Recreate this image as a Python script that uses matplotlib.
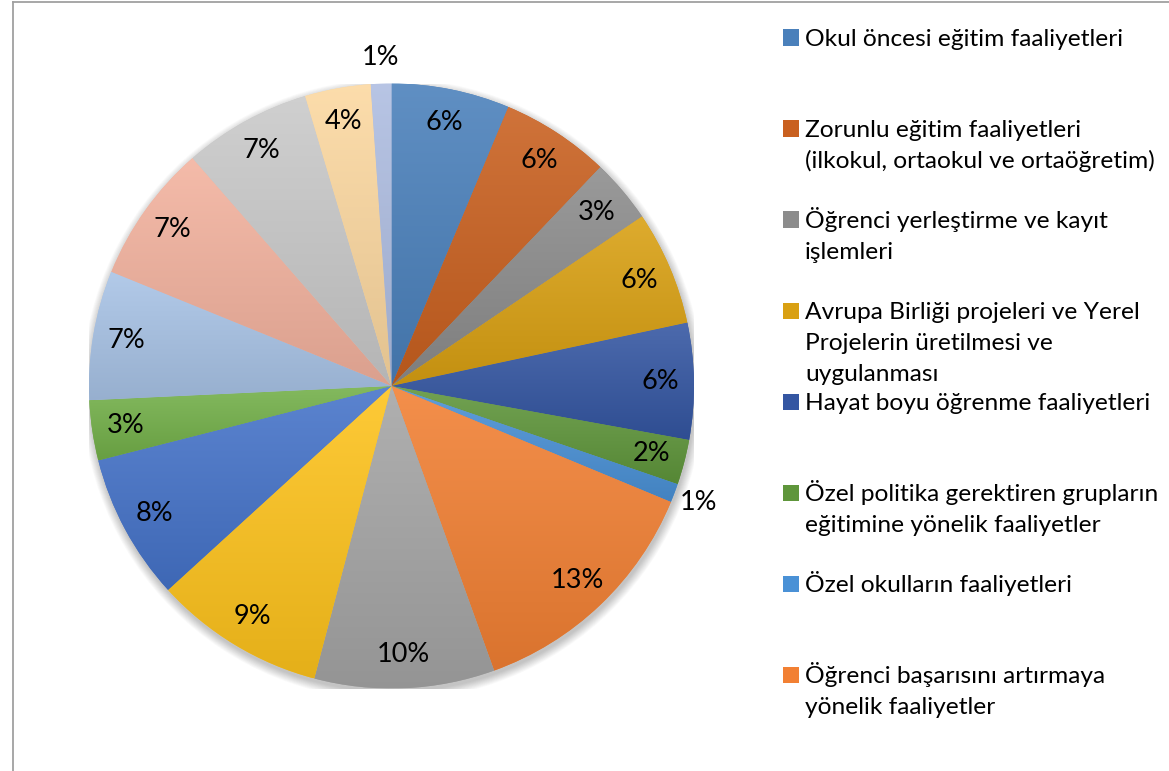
import numpy as np
import matplotlib
matplotlib.use("Agg")
import matplotlib.pyplot as plt
from matplotlib.colors import to_rgb
from matplotlib.patches import Circle, Rectangle
from matplotlib.lines import Line2D

# ---------------- data ----------------
shares = [6.3, 5.8, 3.4, 6.1, 6.2, 2.4, 1.0, 13.2, 9.6, 9.1, 7.8, 3.2, 6.9, 7.4, 6.8, 3.5, 1.1]
colors = ["#4a80bb", "#c9601f", "#8c8c8c", "#d9a012", "#3456a2", "#5f963b",
          "#4a91d6", "#f28033", "#a5a5a5", "#fec31c", "#4573c9", "#73b049",
          "#a8c3e6", "#f3b29e", "#c9c9c9", "#fcd8a0", "#aebde1"]
legend_labels = [
    "Okul öncesi eğitim faaliyetleri",
    "Zorunlu eğitim faaliyetleri\n(ilkokul, ortaokul ve ortaöğretim)",
    "Öğrenci yerleştirme ve kayıt\nişlemleri",
    "Avrupa Birliği projeleri ve Yerel\nProjelerin üretilmesi ve\nuygulanması",
    "Hayat boyu öğrenme faaliyetleri",
    "Özel politika gerektiren grupların\neğitimine yönelik faaliyetler",
    "Özel okulların faaliyetleri",
    "Öğrenci başarısını artırmaya\nyönelik faaliyetler",
]

FONT = "Lato"
W, H = 1169, 771
fig = plt.figure(figsize=(W / 100, H / 100), dpi=100)
fig.patch.set_facecolor("white")

# pie axes (square in pixels)
cx, cy, R = 391.5, 386.0, 302.5
ax = fig.add_axes([(cx - R) / W, (H - cy - R) / H, 2 * R / W, 2 * R / H])

wedges, _ = ax.pie(shares, colors=colors, startangle=90, counterclock=False,
                   radius=1.0, wedgeprops=dict(linewidth=0))

# soft shadow under the pie
for k in range(12):
    ax.add_patch(Circle((0.004, -0.012), 1.0 + 0.0025 * k, facecolor="black",
                        edgecolor="none", alpha=0.018, zorder=0))

# vertical gradient fill of each slice (lighter top, darker bottom)
def grad(color, light=0.12, dark=0.10, n=256):
    c = np.array(to_rgb(color))
    top = c + (1 - c) * light
    bot = c * (1 - dark)
    t = np.linspace(0, 1, n)[:, None]
    return (top * (1 - t) + bot * t)[:, None, :]

for w, col in zip(wedges, colors):
    w.set_zorder(2)
    ext = w.get_path().get_extents()
    im = ax.imshow(grad(col), extent=[ext.x0, ext.x1, ext.y0, ext.y1],
                   origin="upper", aspect="auto", zorder=3, interpolation="bilinear")
    im.set_clip_path(w)

ax.set_xlim(-1, 1)
ax.set_ylim(-1, 1)
ax.set_aspect("equal")
ax.axis("off")

# percentage labels
total = sum(shares)
for w, v in zip(wedges, shares):
    mid = np.deg2rad((w.theta1 + w.theta2) / 2)
    pct = 100 * v / total
    d = 1.085 if pct < 1.5 else 0.89
    ax.text(d * np.cos(mid), d * np.sin(mid), f"{pct:.0f}%", ha="center", va="center",
            fontsize=19.5, family=FONT, color="#000000", zorder=5)

# legend (first 8 entries only, as in reference)
fs = 17
probe = fig.text(0, 0, legend_labels[0], fontsize=fs, family=FONT)
fig.canvas.draw()
wpx = probe.get_window_extent().width
probe.remove()
fs = fs * 318.0 / wpx

first_c, step, line_h = 37.5, 91.0, 31.0
for i, lab in enumerate(legend_labels):
    yc = first_c + i * step
    fig.patches.append(Rectangle((783 / W, 1 - (yc + 8) / H), 16 / W, 16 / H,
                                 transform=fig.transFigure, facecolor=colors[i],
                                 edgecolor="none"))
    for j, line in enumerate(lab.split("\n")):
        yb = yc + 8.5 + j * line_h
        fig.text(805 / W, 1 - yb / H, line, fontsize=fs, family=FONT,
                 ha="left", va="baseline", color="#000000")

# chart frame (left and top edges visible)
fig.add_artist(Line2D([12.5 / W, 12.5 / W], [0, 1 - 1.5 / H], transform=fig.transFigure,
                      color="#a0a0a0", lw=1.3))
fig.add_artist(Line2D([12.5 / W, 1], [1 - 1.5 / H, 1 - 1.5 / H], transform=fig.transFigure,
                      color="#a0a0a0", lw=1.3))

fig.savefig("out.png", dpi=100, facecolor="white")
